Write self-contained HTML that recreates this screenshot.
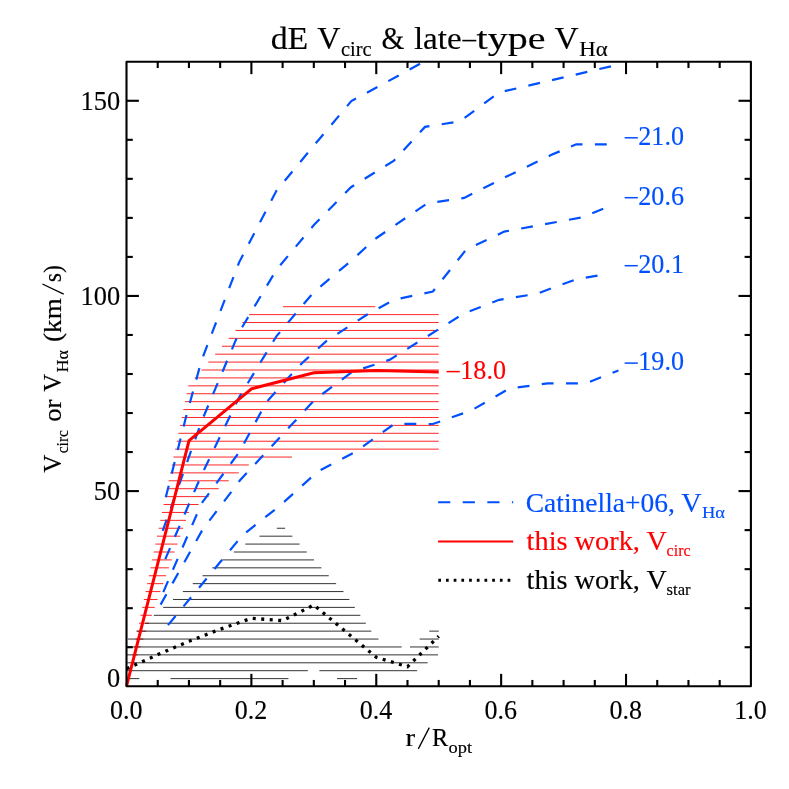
<!DOCTYPE html>
<html lang="en"><head><meta charset="utf-8"><title>dE Vcirc &amp; late-type VHa</title>
<style>
html,body{margin:0;padding:0;background:#fff;}
body{width:789px;height:789px;overflow:hidden;}
svg{display:block;will-change:transform;}
text{font-family:"Liberation Serif", serif;stroke-width:0.15px;stroke-linejoin:round;}
</style></head><body>
<svg width="789" height="789" viewBox="0 0 789 789">
<rect x="0" y="0" width="789" height="789" fill="#ffffff"/>
<defs>
<clipPath id="plotclip"><rect x="126.6" y="61.3" width="624.3" height="624.5"/></clipPath>
</defs>
<g stroke="#ff0000" stroke-width="1" stroke-opacity="0.85" fill="none">
<line x1="282.97" y1="306.7" x2="375.32" y2="306.7"/>
<line x1="249.14" y1="314.61" x2="438.75" y2="314.61"/>
<line x1="242.33" y1="322.53" x2="438.75" y2="322.53"/>
<line x1="235.53" y1="330.44" x2="438.75" y2="330.44"/>
<line x1="228.72" y1="338.35" x2="438.75" y2="338.35"/>
<line x1="221.92" y1="346.26" x2="438.75" y2="346.26"/>
<line x1="215.11" y1="354.18" x2="438.75" y2="354.18"/>
<line x1="208.31" y1="362.09" x2="438.75" y2="362.09"/>
<line x1="201.5" y1="370" x2="438.75" y2="370"/>
<line x1="194.7" y1="377.92" x2="438.75" y2="377.92"/>
<line x1="188.27" y1="385.83" x2="438.75" y2="385.83"/>
<line x1="186.58" y1="393.74" x2="438.75" y2="393.74"/>
<line x1="184.96" y1="401.66" x2="438.75" y2="401.66"/>
<line x1="183.34" y1="409.57" x2="438.75" y2="409.57"/>
<line x1="181.65" y1="417.48" x2="438.75" y2="417.48"/>
<line x1="180.03" y1="425.39" x2="438.75" y2="425.39"/>
<line x1="178.4" y1="433.31" x2="438.75" y2="433.31"/>
<line x1="176.72" y1="441.22" x2="438.75" y2="441.22"/>
<line x1="175.09" y1="449.13" x2="438.75" y2="449.13"/>
<line x1="173.47" y1="457.05" x2="292.04" y2="457.05"/>
<line x1="171.79" y1="464.96" x2="248.84" y2="464.96"/>
<line x1="170.16" y1="472.87" x2="238.79" y2="472.87"/>
<line x1="168.54" y1="480.79" x2="228.74" y2="480.79"/>
<line x1="166.85" y1="488.7" x2="218.75" y2="488.7"/>
<line x1="165.23" y1="496.61" x2="208.7" y2="496.61"/>
<line x1="163.61" y1="504.52" x2="198.64" y2="504.52"/>
<line x1="161.92" y1="512.44" x2="188.91" y2="512.44"/>
<line x1="160.3" y1="520.35" x2="186.03" y2="520.35"/>
<line x1="158.68" y1="528.26" x2="183.22" y2="528.26"/>
<line x1="156.99" y1="536.18" x2="180.35" y2="536.18"/>
<line x1="155.37" y1="544.09" x2="177.48" y2="544.09"/>
<line x1="153.74" y1="552" x2="174.67" y2="552"/>
<line x1="152.06" y1="559.92" x2="171.8" y2="559.92"/>
<line x1="150.43" y1="567.83" x2="168.99" y2="567.83"/>
<line x1="148.81" y1="575.74" x2="166.12" y2="575.74"/>
<line x1="147.13" y1="583.65" x2="163.31" y2="583.65"/>
<line x1="145.5" y1="591.57" x2="160.44" y2="591.57"/>
<line x1="143.88" y1="599.48" x2="157.57" y2="599.48"/>
<line x1="142.19" y1="607.39" x2="154.76" y2="607.39"/>
<line x1="140.57" y1="615.31" x2="151.88" y2="615.31"/>
<line x1="138.95" y1="623.22" x2="149.07" y2="623.22"/>
<line x1="137.26" y1="631.13" x2="146.2" y2="631.13"/>
<line x1="135.64" y1="639.05" x2="143.39" y2="639.05"/>
<line x1="134.02" y1="646.96" x2="140.52" y2="646.96"/>
<line x1="132.33" y1="654.87" x2="137.71" y2="654.87"/>
<line x1="130.71" y1="662.79" x2="134.84" y2="662.79"/>
<line x1="129.08" y1="670.7" x2="131.97" y2="670.7"/>
<line x1="127.4" y1="678.61" x2="129.16" y2="678.61"/>
</g>
<g stroke="#000000" stroke-width="1" stroke-opacity="0.8" fill="none">
<line x1="276.81" y1="528.26" x2="285.11" y2="528.26"/>
<line x1="259.45" y1="536.18" x2="292.35" y2="536.18"/>
<line x1="245.28" y1="544.09" x2="299.59" y2="544.09"/>
<line x1="233.79" y1="552" x2="306.77" y2="552"/>
<line x1="222.31" y1="559.92" x2="314.01" y2="559.92"/>
<line x1="212.25" y1="567.83" x2="321.38" y2="567.83"/>
<line x1="202.51" y1="575.74" x2="328.75" y2="575.74"/>
<line x1="192.78" y1="583.65" x2="336.12" y2="583.65"/>
<line x1="182.91" y1="591.57" x2="343.48" y2="591.57"/>
<line x1="173.05" y1="599.48" x2="349.35" y2="599.48"/>
<line x1="163.18" y1="607.39" x2="354.84" y2="607.39"/>
<line x1="153.82" y1="615.31" x2="360.34" y2="615.31"/>
<line x1="145.14" y1="623.22" x2="365.83" y2="623.22"/>
<line x1="136.46" y1="631.13" x2="371.33" y2="631.13"/>
<line x1="429.26" y1="631.13" x2="438.75" y2="631.13"/>
<line x1="127.85" y1="639.05" x2="378.51" y2="639.05"/>
<line x1="419.65" y1="639.05" x2="438.75" y2="639.05"/>
<line x1="126.6" y1="646.96" x2="401.73" y2="646.96"/>
<line x1="409.97" y1="646.96" x2="438.75" y2="646.96"/>
<line x1="126.6" y1="654.87" x2="438.06" y2="654.87"/>
<line x1="126.6" y1="662.79" x2="427.64" y2="662.79"/>
<line x1="126.6" y1="670.7" x2="307.83" y2="670.7"/>
<line x1="319.38" y1="670.7" x2="417.15" y2="670.7"/>
<line x1="126.6" y1="678.61" x2="139.27" y2="678.61"/>
<line x1="170.55" y1="678.61" x2="288.48" y2="678.61"/>
<line x1="336.99" y1="678.61" x2="357.09" y2="678.61"/>
</g>
<g clip-path="url(#plotclip)" fill="none" stroke="#0050ff" stroke-width="2.2" stroke-dasharray="11.9 12.4">
<polyline points="165.8,497.2 186.5,415.1 201.5,360.5 239,262.6 276.4,190.8 313.9,145.5 351.3,101.1 388.8,80.9 426.3,60.3"/>
<polyline points="162.7,530.9 201.5,421.6 239,332.5 276.4,269.8 313.9,225 351,187.2 394,160.6 425,126.9 460,121.3 499,92.5 611.1,66.3"/>
<polyline points="165.3,559.1 201.5,475 239,397.5 276.4,336.3 313.9,292 351.4,260.6 375,239 395.6,224.8 427,203.5 464.2,197.9 506.5,176.6 550.9,155.1 576.2,144.3 611,144.3"/>
<polyline points="163.3,592.1 201.5,503.5 239.6,451.7 261,412 268.4,400 287.2,379.1 302.4,362.7 326.6,340.9 367.2,314.5 394.2,299.7 432.9,291.5 466,249.8 504.2,231.6 583,217.2 613.4,204.37"/>
<polyline points="160.6,604.6 202.4,529.9 240,480.3 315,399.5 351.9,372.1 389.9,359.65 463.7,313.6 499.2,299.8 537,293.7 576.3,279.2 609.4,273.57"/>
<polyline points="168,625.1 242.5,535.2 279.7,505.9 317.9,471.4 356.2,451.4 394.5,423.8 432.8,424 471,410.6 509.3,388.6 547.6,383.4 585.8,383.4 618.45,370.4"/>
</g>
<polyline fill="none" stroke="#ff0000" stroke-width="3" stroke-linejoin="miter" points="126.6,685.8 189.03,440.68 251.46,388.77 313.89,372.77 376.32,370.43 438.75,371.99"/>
<polyline fill="none" stroke="#000000" stroke-width="3.3" stroke-dasharray="3.0 5.5" points="126.6,668.63 157.81,654.57 189.03,641.3 220.25,629.2 251.46,618.28 282.67,620.62 313.89,605.01 345.1,631.16 376.32,657.31 407.53,666.67 438.75,636.23"/>
<g stroke="#000" stroke-width="2.1" fill="none" stroke-linecap="butt" stroke-linejoin="round">
<rect x="126.5" y="61.75" width="624.4" height="624.5"/>
<line x1="157.72" y1="686.25" x2="157.72" y2="679.95"/>
<line x1="157.72" y1="61.75" x2="157.72" y2="68.05"/>
<line x1="188.94" y1="686.25" x2="188.94" y2="679.95"/>
<line x1="188.94" y1="61.75" x2="188.94" y2="68.05"/>
<line x1="220.16" y1="686.25" x2="220.16" y2="679.95"/>
<line x1="220.16" y1="61.75" x2="220.16" y2="68.05"/>
<line x1="251.38" y1="686.25" x2="251.38" y2="673.85"/>
<line x1="251.38" y1="61.75" x2="251.38" y2="74.15"/>
<line x1="282.6" y1="686.25" x2="282.6" y2="679.95"/>
<line x1="282.6" y1="61.75" x2="282.6" y2="68.05"/>
<line x1="313.82" y1="686.25" x2="313.82" y2="679.95"/>
<line x1="313.82" y1="61.75" x2="313.82" y2="68.05"/>
<line x1="345.04" y1="686.25" x2="345.04" y2="679.95"/>
<line x1="345.04" y1="61.75" x2="345.04" y2="68.05"/>
<line x1="376.26" y1="686.25" x2="376.26" y2="673.85"/>
<line x1="376.26" y1="61.75" x2="376.26" y2="74.15"/>
<line x1="407.48" y1="686.25" x2="407.48" y2="679.95"/>
<line x1="407.48" y1="61.75" x2="407.48" y2="68.05"/>
<line x1="438.7" y1="686.25" x2="438.7" y2="679.95"/>
<line x1="438.7" y1="61.75" x2="438.7" y2="68.05"/>
<line x1="469.92" y1="686.25" x2="469.92" y2="679.95"/>
<line x1="469.92" y1="61.75" x2="469.92" y2="68.05"/>
<line x1="501.14" y1="686.25" x2="501.14" y2="673.85"/>
<line x1="501.14" y1="61.75" x2="501.14" y2="74.15"/>
<line x1="532.36" y1="686.25" x2="532.36" y2="679.95"/>
<line x1="532.36" y1="61.75" x2="532.36" y2="68.05"/>
<line x1="563.58" y1="686.25" x2="563.58" y2="679.95"/>
<line x1="563.58" y1="61.75" x2="563.58" y2="68.05"/>
<line x1="594.8" y1="686.25" x2="594.8" y2="679.95"/>
<line x1="594.8" y1="61.75" x2="594.8" y2="68.05"/>
<line x1="626.02" y1="686.25" x2="626.02" y2="673.85"/>
<line x1="626.02" y1="61.75" x2="626.02" y2="74.15"/>
<line x1="657.24" y1="686.25" x2="657.24" y2="679.95"/>
<line x1="657.24" y1="61.75" x2="657.24" y2="68.05"/>
<line x1="688.46" y1="686.25" x2="688.46" y2="679.95"/>
<line x1="688.46" y1="61.75" x2="688.46" y2="68.05"/>
<line x1="719.68" y1="686.25" x2="719.68" y2="679.95"/>
<line x1="719.68" y1="61.75" x2="719.68" y2="68.05"/>
<line x1="126.5" y1="647.22" x2="132.8" y2="647.22"/>
<line x1="750.9" y1="647.22" x2="744.6" y2="647.22"/>
<line x1="126.5" y1="608.19" x2="132.8" y2="608.19"/>
<line x1="750.9" y1="608.19" x2="744.6" y2="608.19"/>
<line x1="126.5" y1="569.16" x2="132.8" y2="569.16"/>
<line x1="750.9" y1="569.16" x2="744.6" y2="569.16"/>
<line x1="126.5" y1="530.12" x2="132.8" y2="530.12"/>
<line x1="750.9" y1="530.12" x2="744.6" y2="530.12"/>
<line x1="126.5" y1="491.09" x2="138.9" y2="491.09"/>
<line x1="750.9" y1="491.09" x2="738.5" y2="491.09"/>
<line x1="126.5" y1="452.06" x2="132.8" y2="452.06"/>
<line x1="750.9" y1="452.06" x2="744.6" y2="452.06"/>
<line x1="126.5" y1="413.03" x2="132.8" y2="413.03"/>
<line x1="750.9" y1="413.03" x2="744.6" y2="413.03"/>
<line x1="126.5" y1="374" x2="132.8" y2="374"/>
<line x1="750.9" y1="374" x2="744.6" y2="374"/>
<line x1="126.5" y1="334.97" x2="132.8" y2="334.97"/>
<line x1="750.9" y1="334.97" x2="744.6" y2="334.97"/>
<line x1="126.5" y1="295.94" x2="138.9" y2="295.94"/>
<line x1="750.9" y1="295.94" x2="738.5" y2="295.94"/>
<line x1="126.5" y1="256.91" x2="132.8" y2="256.91"/>
<line x1="750.9" y1="256.91" x2="744.6" y2="256.91"/>
<line x1="126.5" y1="217.88" x2="132.8" y2="217.88"/>
<line x1="750.9" y1="217.88" x2="744.6" y2="217.88"/>
<line x1="126.5" y1="178.84" x2="132.8" y2="178.84"/>
<line x1="750.9" y1="178.84" x2="744.6" y2="178.84"/>
<line x1="126.5" y1="139.81" x2="132.8" y2="139.81"/>
<line x1="750.9" y1="139.81" x2="744.6" y2="139.81"/>
<line x1="126.5" y1="100.78" x2="138.9" y2="100.78"/>
<line x1="750.9" y1="100.78" x2="738.5" y2="100.78"/>
</g>
<text x="107" y="687" font-size="27.7" fill="#000" stroke="#000" text-anchor="start" textLength="13.2" lengthAdjust="spacingAndGlyphs">0</text>
<text x="93.8" y="500.39" font-size="27.7" fill="#000" stroke="#000" text-anchor="start" textLength="26.4" lengthAdjust="spacingAndGlyphs">50</text>
<text x="80.6" y="305.24" font-size="27.7" fill="#000" stroke="#000" text-anchor="start" textLength="39.6" lengthAdjust="spacingAndGlyphs">100</text>
<text x="80.6" y="110.08" font-size="27.7" fill="#000" stroke="#000" text-anchor="start" textLength="39.6" lengthAdjust="spacingAndGlyphs">150</text>
<text x="109.95" y="718.7" font-size="27.7" fill="#000" stroke="#000" text-anchor="start" textLength="32.5" lengthAdjust="spacingAndGlyphs">0.0</text>
<text x="234.83" y="718.7" font-size="27.7" fill="#000" stroke="#000" text-anchor="start" textLength="32.5" lengthAdjust="spacingAndGlyphs">0.2</text>
<text x="359.71" y="718.7" font-size="27.7" fill="#000" stroke="#000" text-anchor="start" textLength="32.5" lengthAdjust="spacingAndGlyphs">0.4</text>
<text x="484.59" y="718.7" font-size="27.7" fill="#000" stroke="#000" text-anchor="start" textLength="32.5" lengthAdjust="spacingAndGlyphs">0.6</text>
<text x="609.47" y="718.7" font-size="27.7" fill="#000" stroke="#000" text-anchor="start" textLength="32.5" lengthAdjust="spacingAndGlyphs">0.8</text>
<text x="734.35" y="718.7" font-size="27.7" fill="#000" stroke="#000" text-anchor="start" textLength="32.5" lengthAdjust="spacingAndGlyphs">1.0</text>
<line x1="624.6" y1="137.8" x2="637.8" y2="137.8" stroke="#0050ff" stroke-width="1.5"/>
<text x="638.3" y="144.9" font-size="27.7" fill="#0050ff" stroke="#0050ff" text-anchor="start" textLength="45.7" lengthAdjust="spacingAndGlyphs">21.0</text>
<line x1="624.6" y1="197.7" x2="637.8" y2="197.7" stroke="#0050ff" stroke-width="1.5"/>
<text x="638.3" y="204.8" font-size="27.7" fill="#0050ff" stroke="#0050ff" text-anchor="start" textLength="45.7" lengthAdjust="spacingAndGlyphs">20.6</text>
<line x1="624.6" y1="265.7" x2="637.8" y2="265.7" stroke="#0050ff" stroke-width="1.5"/>
<text x="638.3" y="272.8" font-size="27.7" fill="#0050ff" stroke="#0050ff" text-anchor="start" textLength="45.7" lengthAdjust="spacingAndGlyphs">20.1</text>
<line x1="624.6" y1="363.1" x2="637.8" y2="363.1" stroke="#0050ff" stroke-width="1.5"/>
<text x="638.3" y="370.2" font-size="27.7" fill="#0050ff" stroke="#0050ff" text-anchor="start" textLength="45.7" lengthAdjust="spacingAndGlyphs">19.0</text>
<line x1="446.6" y1="371.6" x2="459.8" y2="371.6" stroke="#ff0000" stroke-width="1.5"/>
<text x="460.3" y="378.7" font-size="27.7" fill="#ff0000" stroke="#ff0000" text-anchor="start" textLength="45.7" lengthAdjust="spacingAndGlyphs">18.0</text>
<text x="270.7" y="48.6" font-size="31.6" fill="#000" stroke="#000" textLength="37.6" lengthAdjust="spacingAndGlyphs" xml:space="preserve">dE</text>
<text x="317.3" y="48.6" font-size="31.6" fill="#000" stroke="#000" textLength="23.2" lengthAdjust="spacingAndGlyphs" xml:space="preserve">V</text>
<text x="340.9" y="56.1" font-size="20.5" fill="#000" stroke="#000" textLength="30.7" lengthAdjust="spacingAndGlyphs" xml:space="preserve">circ</text>
<text x="381.4" y="48.6" font-size="31.6" fill="#000" stroke="#000" textLength="22.8" lengthAdjust="spacingAndGlyphs" xml:space="preserve">&amp;</text>
<text x="413.9" y="48.6" font-size="31.6" fill="#000" stroke="#000" textLength="47.9" lengthAdjust="spacingAndGlyphs" xml:space="preserve">late</text>
<line x1="462.3" y1="40.6" x2="476.3" y2="40.6" stroke="#000" stroke-width="1.6"/>
<text x="476.6" y="48.6" font-size="31.6" fill="#000" stroke="#000" textLength="68.8" lengthAdjust="spacingAndGlyphs" xml:space="preserve">type</text>
<text x="554.6" y="48.6" font-size="31.6" fill="#000" stroke="#000" textLength="24.1" lengthAdjust="spacingAndGlyphs" xml:space="preserve">V</text>
<text x="579.2" y="56.1" font-size="20.5" fill="#000" stroke="#000" textLength="28.4" lengthAdjust="spacingAndGlyphs" xml:space="preserve">Hα</text>
<text x="405.6" y="745.9" font-size="25" fill="#000" stroke="#000" textLength="9.6" lengthAdjust="spacingAndGlyphs" xml:space="preserve">r</text>
<line x1="418.3" y1="748.9" x2="429.3" y2="727.6" stroke="#000" stroke-width="1.3"/>
<text x="431.9" y="745.9" font-size="25" fill="#000" stroke="#000" textLength="16.2" lengthAdjust="spacingAndGlyphs" xml:space="preserve">R</text>
<text x="448.5" y="752.9" font-size="16" fill="#000" stroke="#000" textLength="23.5" lengthAdjust="spacingAndGlyphs" xml:space="preserve">opt</text>
<g transform="translate(61.3 472.5) rotate(-90)">
<text x="-0.2" y="0" font-size="25" fill="#000" stroke="#000" textLength="18.1" lengthAdjust="spacingAndGlyphs" xml:space="preserve">V</text>
<text x="19.2" y="6.4" font-size="16" fill="#000" stroke="#000" textLength="23.3" lengthAdjust="spacingAndGlyphs" xml:space="preserve">circ</text>
<text x="50.7" y="0" font-size="25" fill="#000" stroke="#000" textLength="22.2" lengthAdjust="spacingAndGlyphs" xml:space="preserve">or</text>
<text x="80.8" y="0" font-size="25" fill="#000" stroke="#000" textLength="17.9" lengthAdjust="spacingAndGlyphs" xml:space="preserve">V</text>
<text x="100" y="6.4" font-size="16" fill="#000" stroke="#000" textLength="22.4" lengthAdjust="spacingAndGlyphs" xml:space="preserve">Hα</text>
<text x="130.6" y="0" font-size="25" fill="#000" stroke="#000" textLength="43.7" lengthAdjust="spacingAndGlyphs" xml:space="preserve">(km</text>
<line x1="178.3" y1="2.4" x2="188.5" y2="-18.9" stroke="#000" stroke-width="1.3"/>
<text x="190.3" y="0" font-size="25" fill="#000" stroke="#000" textLength="17.1" lengthAdjust="spacingAndGlyphs" xml:space="preserve">s)</text>
</g>
<line x1="438.1" y1="502.2" x2="513.2" y2="502.2" stroke="#0050ff" stroke-width="1.9" stroke-dasharray="12.2 12.4"/>
<line x1="438.1" y1="541.4" x2="513.2" y2="541.4" stroke="#ff0000" stroke-width="2"/>
<line x1="438.3" y1="580.3" x2="513.2" y2="580.3" stroke="#000000" stroke-width="3.0" stroke-dasharray="2.7 5.0"/>
<text x="525.8" y="511.5" font-size="27.5" fill="#0050ff" stroke="#0050ff" textLength="149" lengthAdjust="spacingAndGlyphs" xml:space="preserve">Catinella+06,</text>
<text x="681.3" y="511.5" font-size="27.5" fill="#0050ff" stroke="#0050ff" textLength="20.4" lengthAdjust="spacingAndGlyphs" xml:space="preserve">V</text>
<text x="701.9" y="517.5" font-size="16.5" fill="#0050ff" stroke="#0050ff" textLength="23" lengthAdjust="spacingAndGlyphs" xml:space="preserve">Hα</text>
<text x="526.6" y="549.8" font-size="27.5" fill="#ff0000" stroke="#ff0000" textLength="113.3" lengthAdjust="spacingAndGlyphs" xml:space="preserve">this work,</text>
<text x="646.5" y="549.8" font-size="27.5" fill="#ff0000" stroke="#ff0000" textLength="20.4" lengthAdjust="spacingAndGlyphs" xml:space="preserve">V</text>
<text x="666.6" y="555.8" font-size="16.5" fill="#ff0000" stroke="#ff0000" textLength="24" lengthAdjust="spacingAndGlyphs" xml:space="preserve">circ</text>
<text x="526.6" y="588.5" font-size="27.5" fill="#000000" stroke="#000000" textLength="113.3" lengthAdjust="spacingAndGlyphs" xml:space="preserve">this work,</text>
<text x="646.5" y="588.5" font-size="27.5" fill="#000000" stroke="#000000" textLength="20.4" lengthAdjust="spacingAndGlyphs" xml:space="preserve">V</text>
<text x="666.6" y="594.5" font-size="16.5" fill="#000000" stroke="#000000" textLength="24" lengthAdjust="spacingAndGlyphs" xml:space="preserve">star</text>
</svg>
</body></html>
